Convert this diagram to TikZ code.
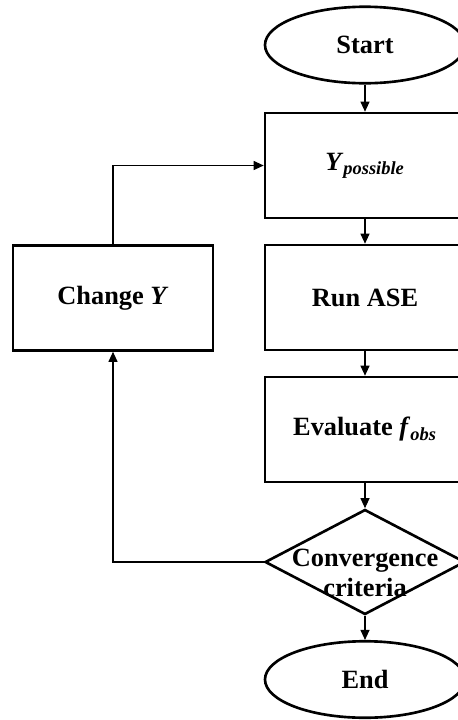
\documentclass[tikz,border=0pt]{standalone}
\usepackage{fontspec}
\setmainfont{Liberation Serif}
\usetikzlibrary{arrows.meta,shapes.geometric}

\begin{document}
\begin{tikzpicture}[
		block/.style={draw, line width=1.5pt, minimum width=4cm, minimum height=2.1cm, font=\fontsize{15}{17}\selectfont\bfseries},
		term/.style={draw, ellipse, line width=1.5pt, minimum width=4cm, minimum height=1.53cm, font=\fontsize{15}{17}\selectfont\bfseries},
		decide/.style={draw, diamond, line width=1.5pt, minimum width=4cm, minimum height=2.1cm},
		link/.style={line width=0.6pt, -{Triangle[length=2mm,width=1.8mm]}}
	]
			%%%%% START %%%%%
			
			\clip (0, 0) rectangle (9.16, -14.4);
			\useasboundingbox (0, 0) rectangle (9.16, -14.4);
			
			\node[term] (start) at (7.3, -0.9) {Start};
			\node[block] (ypos) at (7.3, -3.31) {\textit{Y}\textsubscript{\textit{possible}}};
			\node[block] (runase) at (7.3, -5.95) {Run ASE};
			\node[block] (eval) at (7.3, -8.59) {Evaluate \textit{f}\textsubscript{\textit{obs}}};
			
			\node[decide] (conv) at (7.3, -11.24) {};
			\node[font=\fontsize{15}{17}\selectfont\bfseries, align=center, inner sep=0pt] (convtxt) at (7.3, -11.46) {Convergence\\criteria};
			
			\node[term] (end) at (7.3, -13.59) {End};
			
			\node[block] (chg) at (2.26, -5.96) {Change \textit{Y}};
			
			% main column
			\draw[link] (start) -- (ypos);
			\draw[link] (ypos) -- (runase);
			\draw[link] (runase) -- (eval);
			\draw[link] (eval) -- (conv);
			\draw[link] (conv) -- (end);
			
			% loop back
			\draw[link] (conv.west) -| (chg.south);
			\draw[link] (chg.north) |- (ypos.west);
			
			%%%%% END %%%%%
		\end{tikzpicture}
\end{document}
